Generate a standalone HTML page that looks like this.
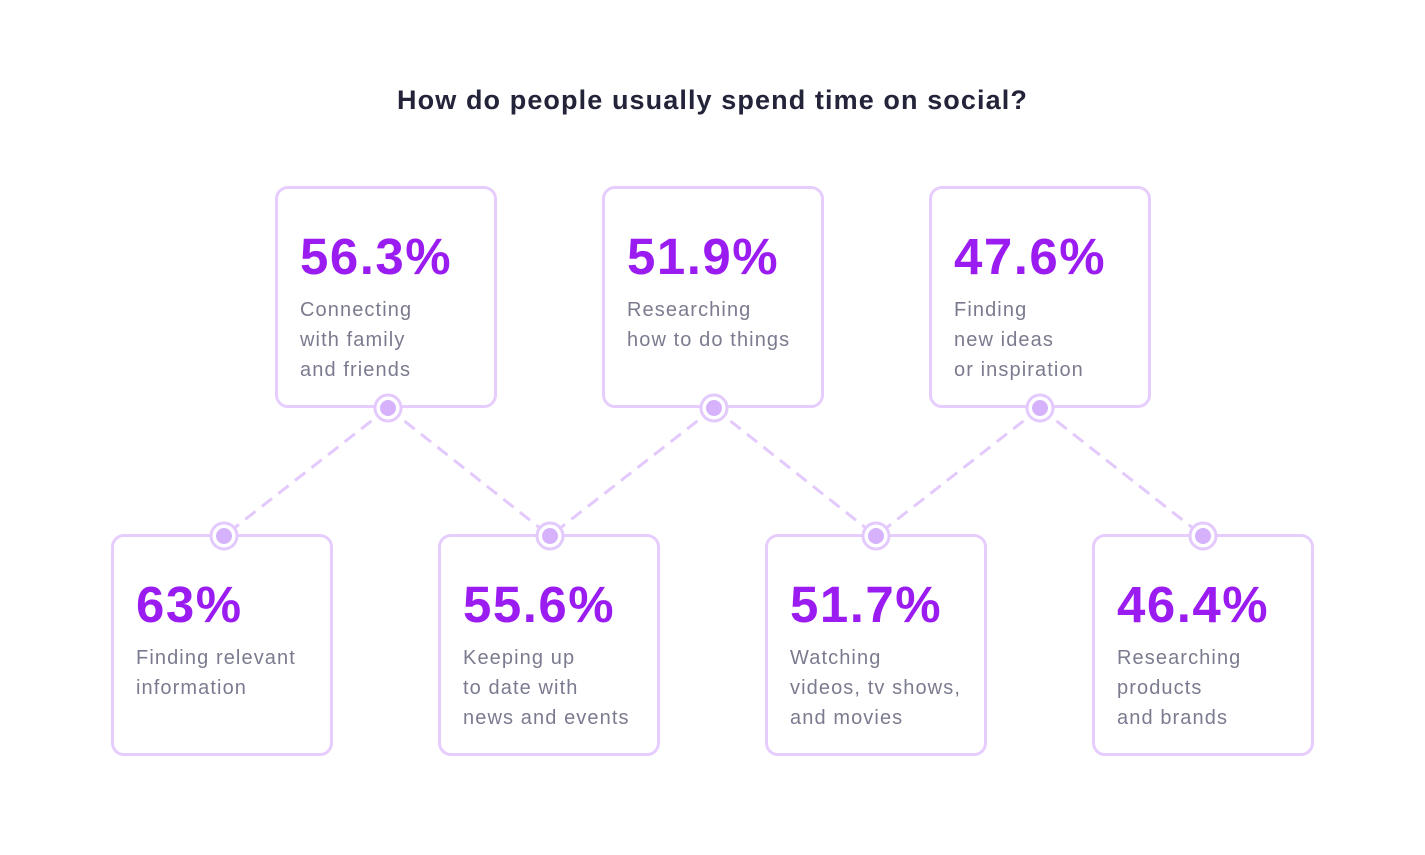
<!DOCTYPE html>
<html><head><meta charset="utf-8"><style>
body{margin:0;width:1425px;height:855px;background:#fff;position:relative;font-family:"Liberation Sans",sans-serif;overflow:hidden}
.t{position:absolute;top:85px;left:0;width:1425px;text-align:center;font-size:27px;font-weight:bold;color:#23233a;letter-spacing:1.1px}
.b{position:absolute;width:216px;height:216px;border:3px solid #e6cdfd;border-radius:13px;box-sizing:content-box}
.n{position:absolute;left:22px;top:38px;font-size:51px;font-weight:bold;color:#9a1cf0;letter-spacing:1.5px;white-space:nowrap}
.l{position:absolute;left:22px;top:106px;font-size:20px;line-height:30px;color:#7b7b90;letter-spacing:1.1px;white-space:nowrap}
svg{position:absolute;left:0;top:0}
</style></head><body>
<div class="t">How do people usually spend time on social?</div>
<svg width="1425" height="855">
<g stroke="#e3c9fc" stroke-width="3" stroke-dasharray="13,8" fill="none">
<line x1="388" y1="408" x2="224" y2="536"/><line x1="388" y1="408" x2="550" y2="536"/>
<line x1="714" y1="408" x2="550" y2="536"/><line x1="714" y1="408" x2="876" y2="536"/>
<line x1="1040" y1="408" x2="876" y2="536"/><line x1="1040" y1="408" x2="1203" y2="536"/>
</g>
</svg>
<div class="b" style="left:275px;top:186px"><div class="n">56.3%</div><div class="l">Connecting<br>with family<br>and friends</div></div>
<div class="b" style="left:602px;top:186px"><div class="n">51.9%</div><div class="l">Researching<br>how to do things</div></div>
<div class="b" style="left:929px;top:186px"><div class="n">47.6%</div><div class="l">Finding<br>new ideas<br>or inspiration</div></div>
<div class="b" style="left:111px;top:534px"><div class="n">63%</div><div class="l">Finding relevant<br>information</div></div>
<div class="b" style="left:438px;top:534px"><div class="n">55.6%</div><div class="l">Keeping up<br>to date with<br>news and events</div></div>
<div class="b" style="left:765px;top:534px"><div class="n">51.7%</div><div class="l">Watching<br>videos, tv shows,<br>and movies</div></div>
<div class="b" style="left:1092px;top:534px"><div class="n">46.4%</div><div class="l">Researching<br>products<br>and brands</div></div>
<svg width="1425" height="855">
<g fill="#fff" stroke="#e3c9fc" stroke-width="3">
<circle cx="388" cy="408" r="13"/><circle cx="714" cy="408" r="13"/><circle cx="1040" cy="408" r="13"/>
<circle cx="224" cy="536" r="13"/><circle cx="550" cy="536" r="13"/><circle cx="876" cy="536" r="13"/><circle cx="1203" cy="536" r="13"/>
</g>
<g fill="#d5b2fb">
<circle cx="388" cy="408" r="8"/><circle cx="714" cy="408" r="8"/><circle cx="1040" cy="408" r="8"/>
<circle cx="224" cy="536" r="8"/><circle cx="550" cy="536" r="8"/><circle cx="876" cy="536" r="8"/><circle cx="1203" cy="536" r="8"/>
</g>
</svg>
</body></html>
